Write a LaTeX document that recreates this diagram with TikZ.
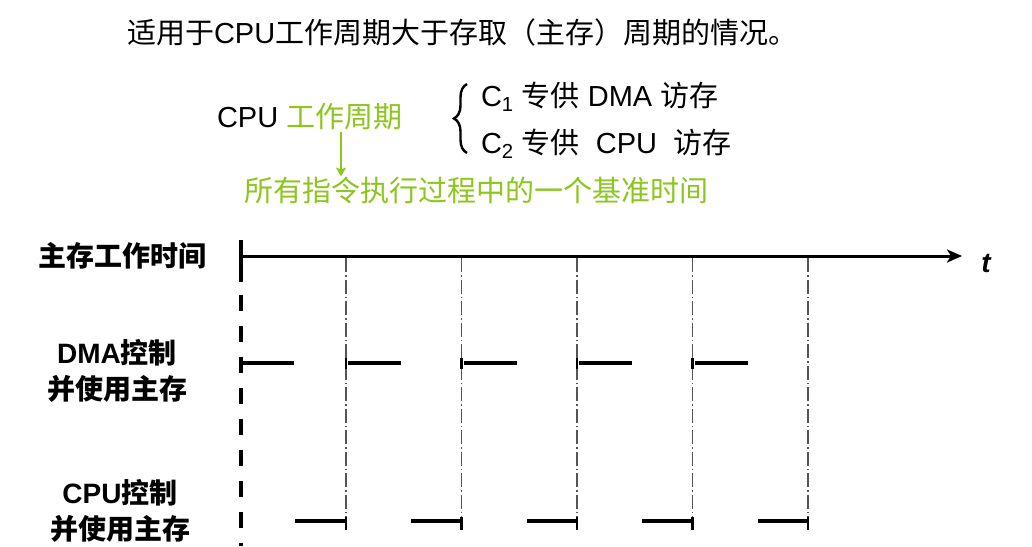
\documentclass[tikz,border=0pt]{standalone}
\usepackage{fontspec}
\setmainfont{Liberation Sans}
\newfontfamily\cjk{Noto Sans CJK SC}
\usetikzlibrary{arrows.meta,decorations.pathreplacing}
\definecolor{lgreen}{RGB}{140,198,30}
\definecolor{ddgray}{RGB}{85,85,85}
\tikzset{
  txt/.style={inner sep=0pt, outer sep=0pt},
  big/.style={font=\fontsize{29}{34}\selectfont},
  lbl/.style={inner sep=0pt, align=center, font=\fontsize{28}{36}\selectfont\bfseries},
  axisline/.style={line width=3pt, -{Stealth[length=15pt,width=13pt,inset=4pt]}},
  gridline/.style={draw=ddgray, line width=1.3pt, dash pattern=on 14pt off 3pt on 1.5pt off 3pt},
  seg/.style={line width=4pt, line cap=butt},
  tick/.style={line width=2.5pt, line cap=butt},
  bigdash/.style={line width=4pt, line cap=butt, dash pattern=on 16pt off 15pt},
  garrow/.style={draw=lgreen, line width=2pt, -{Stealth[length=9pt,width=10pt,inset=2pt]}},
  bracestyle/.style={line width=2.4pt, decorate, decoration={brace, amplitude=13pt}}
}
\begin{document}
\begin{tikzpicture}[x=1pt,y=-1pt]
\fill[white] (0,0) rectangle (1032,546);
\useasboundingbox (0,0) rectangle (1032,546);

% title
\node[txt, anchor=base west, font=\fontsize{29}{34}\selectfont] (title) at (127,43.5)
  {{\cjk 适用于}CPU{\cjk 工作周期大于存取（主存）周期的情况。}};

% CPU work cycle
\node[txt, big, anchor=base west] (cpu) at (217,127.5) {CPU};
\node[txt, big, anchor=base west, text=lgreen] (wk) at (286,127.5) {\cjk 工作周期};
\node[txt, big, anchor=base west, text=lgreen] (base) at (244,201) {\cjk 所有指令执行过程中的一个基准时间};
\draw[garrow] ([xshift=-3pt,yshift=-2pt]wk.south) -- ([xshift=-3pt]wk.south |- base.north);

% brace and the two cases
\coordinate (brb) at (467,153);
\coordinate (brt) at (467,84);
\draw[bracestyle] (brb) -- (brt);
\node[txt, big, anchor=base west] (c1) at (481,106) {C\textsubscript{1}~{\cjk 专供}~DMA~{\cjk 访存}};
\node[txt, big, anchor=base west] (c2) at (481,153) {C\textsubscript{2}~{\cjk 专供}~~CPU~~{\cjk 访存}};

% left labels
\node[lbl] (mem) at (122.5,255.5) {\cjk 主存工作时间};
\node[lbl] (dmal) at (117,371) {DMA{\cjk 控制}\\{\cjk 并使用主存}};
\node[lbl] (cpul) at (120,511) {CPU{\cjk 控制}\\{\cjk 并使用主存}};

% time axis
\coordinate (O) at (241,256);
\coordinate (E) at (962,256);
\draw[axisline] (O) -- (E);
\node[txt, anchor=base, font=\fontsize{28}{34}\selectfont\bfseries\itshape] (t) at (986,272) {t};

% start line
\coordinate (S0) at (241,240);
\coordinate (S1) at (241,282);
\coordinate (S2) at (241,295);
\coordinate (S3) at (241,546);
\draw[seg] (S0) -- (S1);
\draw[bigdash] (S2) -- (S3);

% first DMA and CPU slots
\coordinate (D0a) at (241,363);
\coordinate (D0b) at (294,363);
\draw[seg] (D0a) -- (D0b);
\coordinate (C0a) at (295,521);
\coordinate (C0b) at (346,521);
\draw[seg] (C0a) -- (C0b);

% periodic lines and slots
\foreach \i in {0,...,4}{
  \pgfmathsetmacro{\xx}{346+115.5*\i}
  \coordinate (L\i) at (\xx,258);
  \coordinate (B\i) at (\xx,530);
  \draw[gridline] (L\i) -- (B\i);
  % tick at CPU end
  \draw[tick] (\xx,517) -- (\xx,530);
}
\foreach \i in {0,...,3}{
  \pgfmathsetmacro{\xx}{346+115.5*\i}
  % tick at DMA start
  \draw[tick] (\xx,358) -- (\xx,369);
  \draw[seg] (\xx+2,363) -- (\xx+55,363);
  \draw[seg] (\xx+65,521) -- (\xx+116.5,521);
}
\end{tikzpicture}
\end{document}
